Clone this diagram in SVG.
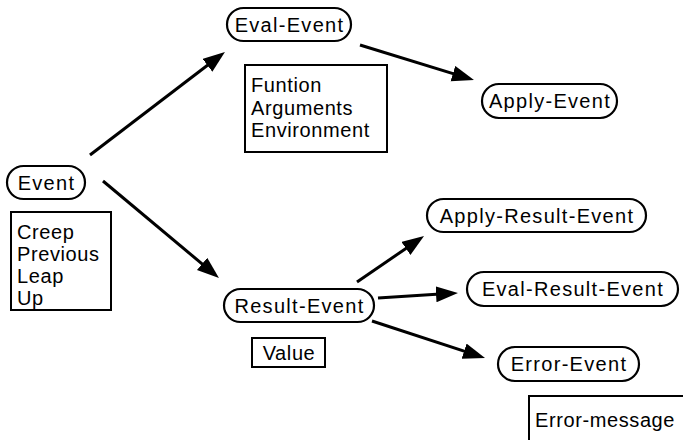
<svg xmlns="http://www.w3.org/2000/svg" width="683" height="440" viewBox="0 0 683 440">
<style>
.pill{fill:#fff;stroke:#000;stroke-width:2.2}
.box{fill:#fff;stroke:#000;stroke-width:2}
.t{font-family:"Liberation Sans",Arial,sans-serif;font-size:20px;letter-spacing:0.6px;fill:#000}
.p{letter-spacing:1.3px}
.c{text-anchor:middle}
.ln{stroke:#000;stroke-width:3;fill:none;marker-end:url(#ah)}
</style>
<defs>
<marker id="ah" markerUnits="userSpaceOnUse" markerWidth="24" markerHeight="18" refX="12" refY="8" orient="auto">
<path d="M0,0 L22,8 L0,16 z" fill="#000"/>
</marker>
</defs>
<rect width="683" height="440" fill="#fff"/>
<g id="connectors">
<line class="ln" x1="90" y1="155" x2="217" y2="58"/>
<line class="ln" x1="360" y1="45" x2="464.4" y2="77.1"/>
<line class="ln" x1="103" y1="181" x2="211.3" y2="271.6"/>
<line class="ln" x1="357" y1="282" x2="415.8" y2="241.7"/>
<line class="ln" x1="378" y1="298" x2="448" y2="293.6"/>
<line class="ln" x1="372" y1="321" x2="475.5" y2="354.9"/>
</g>
<g id="event">
<rect class="pill" x="7" y="166" width="78" height="33" rx="16.5"/>
<text class="t p c" x="46.5" y="189.5">Event</text>
</g>
<g id="event-info">
<rect class="box" x="11" y="212" width="100" height="98"/>
<text class="t" x="17" y="239">Creep</text>
<text class="t" x="17" y="261">Previous</text>
<text class="t" x="17" y="283">Leap</text>
<text class="t" x="17" y="305">Up</text>
</g>
<g id="eval-event">
<rect class="pill" x="227" y="8" width="124" height="33" rx="16.5"/>
<text class="t p c" x="289.5" y="31.5">Eval-Event</text>
</g>
<g id="eval-event-info">
<rect class="box" x="245" y="65" width="142" height="87"/>
<text class="t" x="251" y="92">Funtion</text>
<text class="t" x="251" y="115">Arguments</text>
<text class="t" x="251" y="137">Environment</text>
</g>
<g id="apply-event">
<rect class="pill" x="482" y="84" width="135" height="34" rx="17"/>
<text class="t p c" x="550" y="108">Apply-Event</text>
</g>
<g id="result-event">
<rect class="pill" x="224" y="289" width="150" height="33" rx="16.5"/>
<text class="t p c" x="299.5" y="312.5">Result-Event</text>
</g>
<g id="result-event-info">
<rect class="box" x="252" y="338" width="73" height="29"/>
<text class="t c" x="289" y="359.5">Value</text>
</g>
<g id="apply-result-event">
<rect class="pill" x="427" y="199" width="219" height="33" rx="16.5"/>
<text class="t p c" x="537" y="222.5">Apply-Result-Event</text>
</g>
<g id="eval-result-event">
<rect class="pill" x="467" y="272" width="211" height="34" rx="17"/>
<text class="t p c" x="573" y="296">Eval-Result-Event</text>
</g>
<g id="error-event">
<rect class="pill" x="498" y="347" width="141" height="34" rx="17"/>
<text class="t p c" x="569" y="371">Error-Event</text>
</g>
<g id="error-event-info">
<rect class="box" x="529" y="396" width="160" height="50"/>
<text class="t" x="535" y="427">Error-message</text>
</g>
</svg>
